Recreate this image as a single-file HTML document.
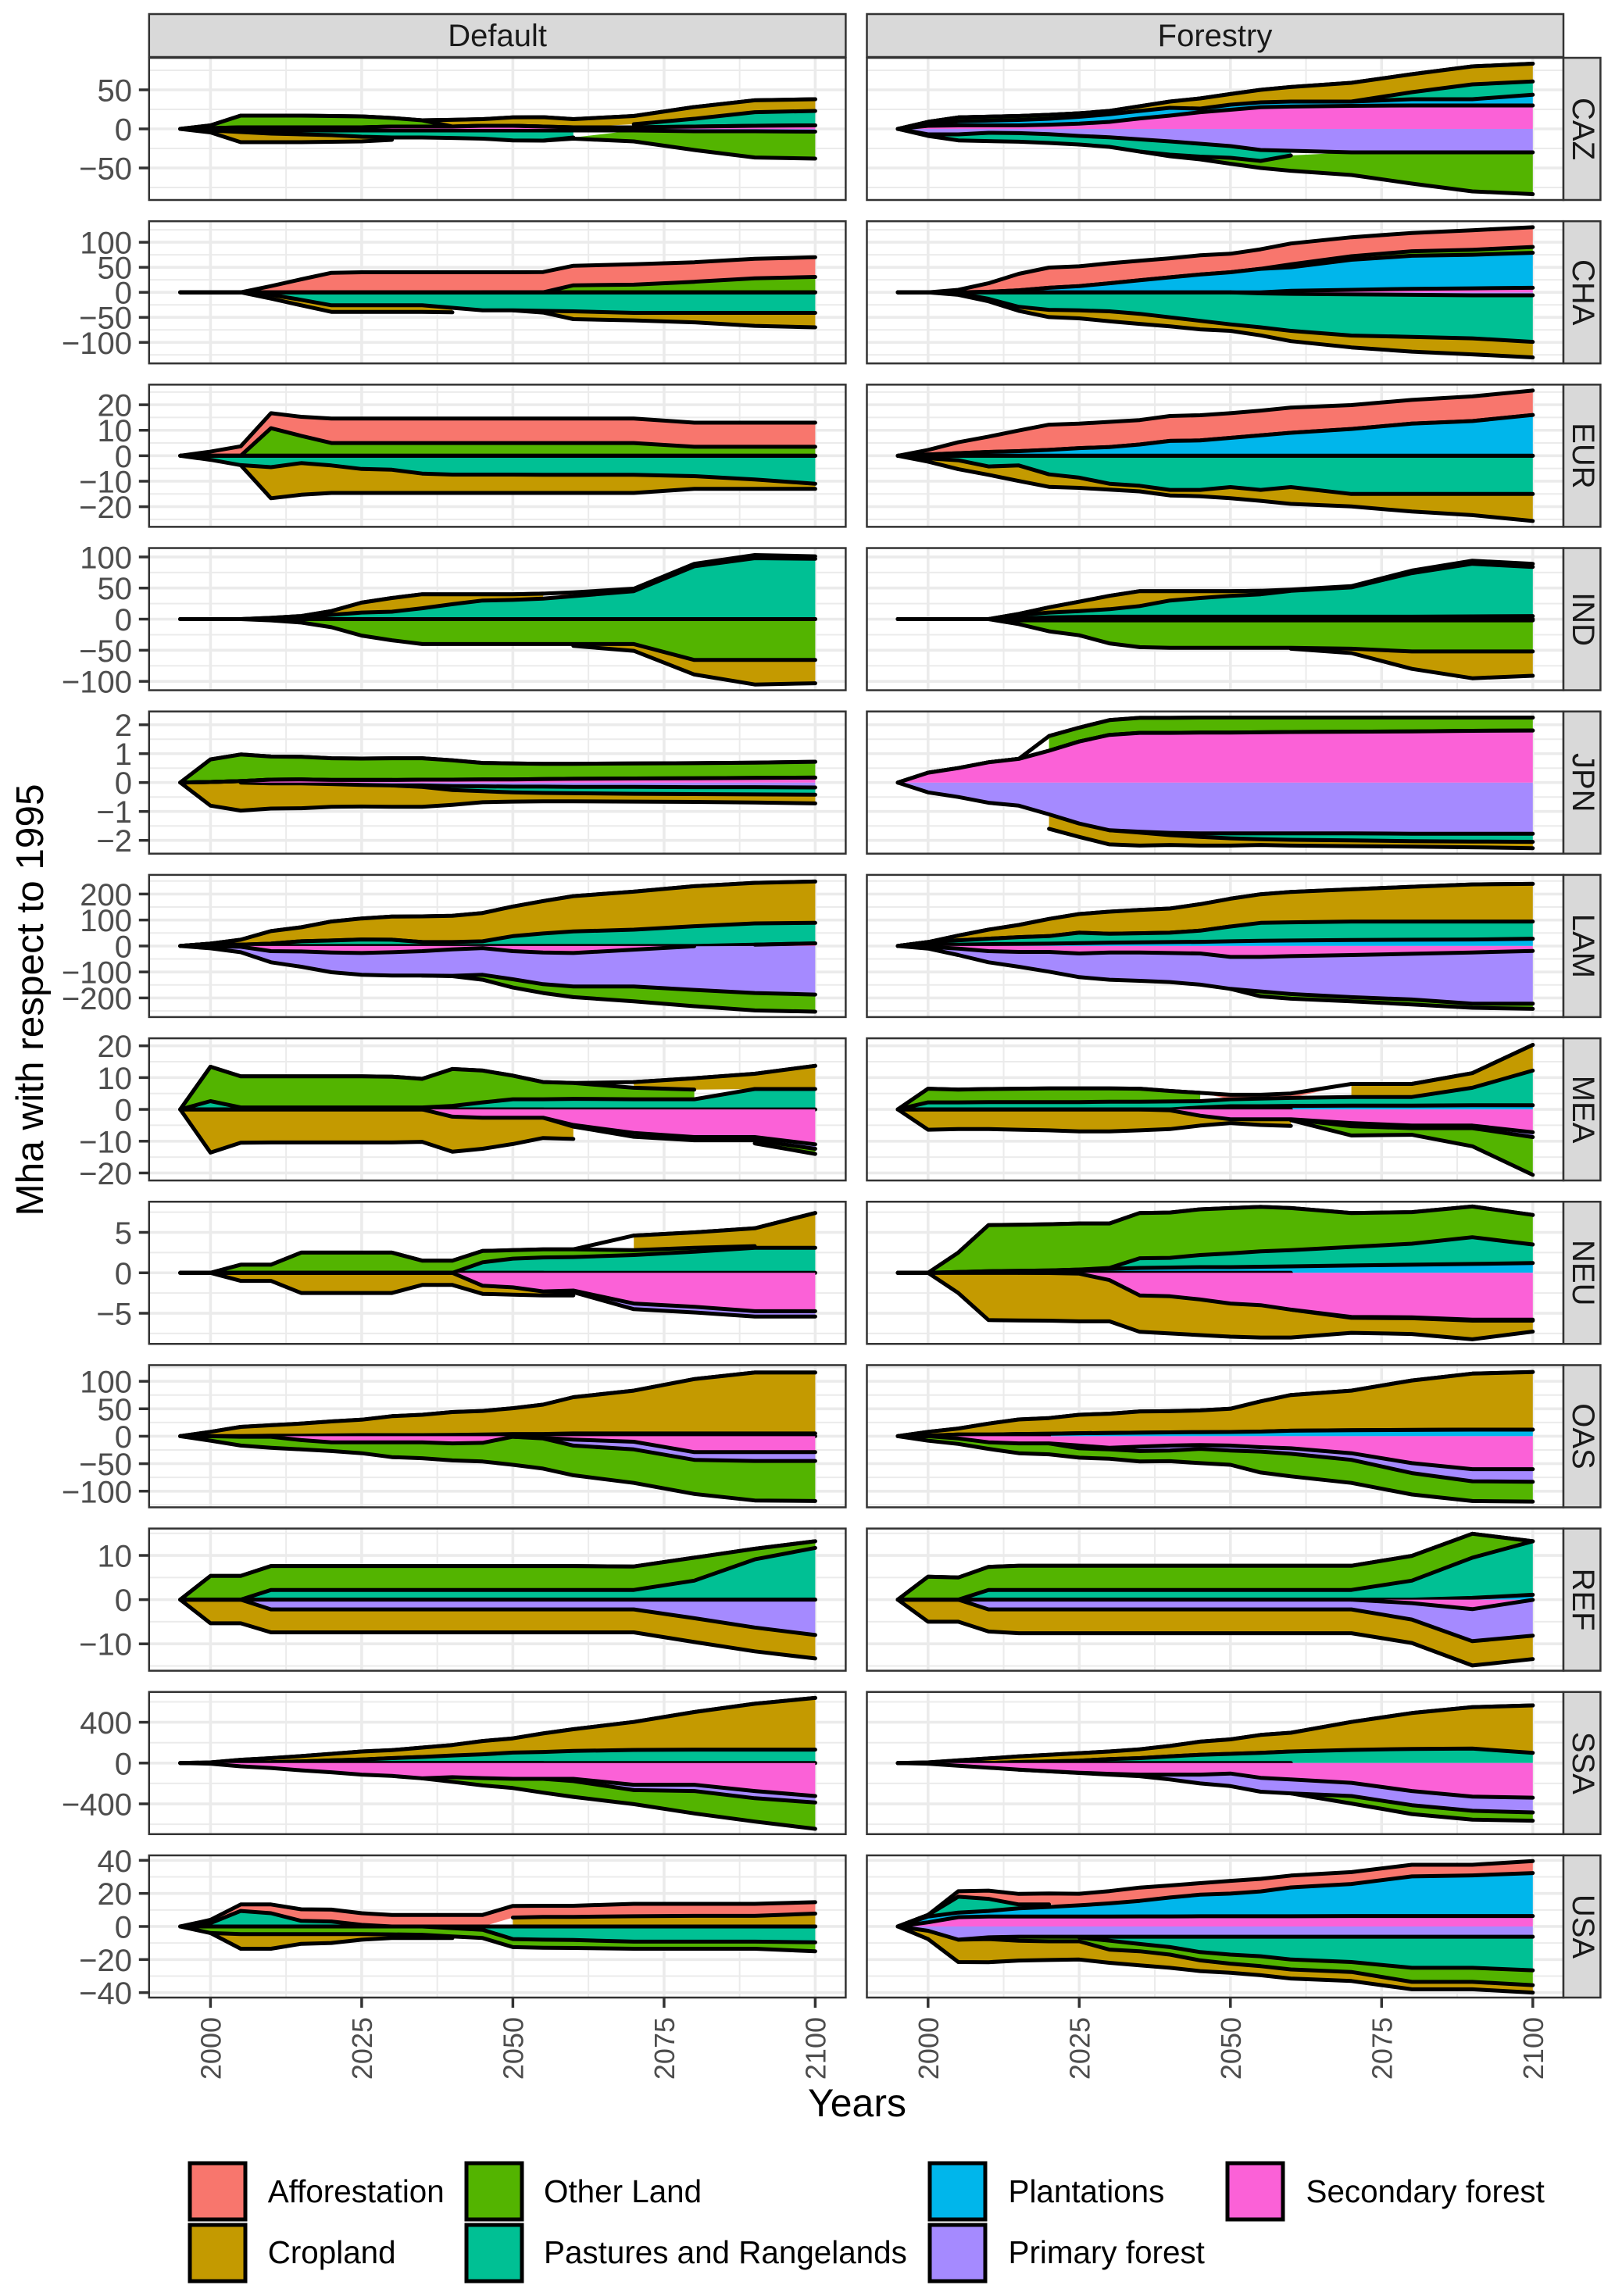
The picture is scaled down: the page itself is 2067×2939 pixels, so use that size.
<!DOCTYPE html>
<html lang="en">
<head>
<meta charset="utf-8">
<title>Land use change by region, Default and Forestry scenarios</title>
<style>
html,body{margin:0;padding:0;background:#fff}
svg{display:block;font-family:"Liberation Sans",sans-serif}
</style>
</head>
<body>
<svg id="chart" xmlns="http://www.w3.org/2000/svg" width="2067" height="2939" viewBox="0 0 2067 2939">
  <rect x="0" y="0" width="2067" height="2939" fill="#ffffff"/>
  <g id="panels"></g>

  <g>
    <rect x="190.8" y="18" width="891.6" height="55" fill="#d9d9d9" stroke="#333333" stroke-width="2.5"/>
    <text x="636.6" y="59" font-size="40" text-anchor="middle" fill="#1a1a1a">Default</text>
    <rect x="1109.5" y="18" width="891.5" height="55" fill="#d9d9d9" stroke="#333333" stroke-width="2.5"/>
    <text x="1555" y="59" font-size="40" text-anchor="middle" fill="#1a1a1a">Forestry</text>
  </g>

  <text x="1097" y="2709" font-size="50" text-anchor="middle" fill="#000000">Years</text>
  <text transform="translate(55,1280) rotate(-90)" font-size="49.5" text-anchor="middle" fill="#000000">Mha with respect to 1995</text>

  <g stroke="#000000" stroke-width="5">
    <rect x="243" y="2769" width="71" height="72" fill="#F8766D"/>
    <rect x="243" y="2848" width="71" height="72" fill="#C49A00"/>
    <rect x="597" y="2769" width="71" height="72" fill="#53B400"/>
    <rect x="597" y="2848" width="71" height="72" fill="#00C094"/>
    <rect x="1190" y="2769" width="71" height="72" fill="#00B6EB"/>
    <rect x="1190" y="2848" width="71" height="72" fill="#A58AFF"/>
    <rect x="1571" y="2769" width="71" height="72" fill="#FB61D7"/>
  </g>
  <g font-size="40.4" fill="#000000">
    <text x="342.7" y="2819">Afforestation</text>
    <text x="342.7" y="2897">Cropland</text>
    <text x="696" y="2819">Other Land</text>
    <text x="696" y="2897">Pastures and Rangelands</text>
    <text x="1290.5" y="2819">Plantations</text>
    <text x="1290.5" y="2897">Primary forest</text>
    <text x="1671.5" y="2819">Secondary forest</text>
  </g>
</svg>

<script>
const years = [1995,2000,2005,2010,2015,2020,2025,2030,2035,2040,2045,2050,2055,2060,2070,2080,2090,2100];
const xTickYears = [2000,2025,2050,2075,2100];
const xMinorYears = [2012.5,2037.5,2062.5,2087.5];
const regions = ['CAZ','CHA','EUR','IND','JPN','LAM','MEA','NEU','OAS','REF','SSA','USA'];
const scenarios = ['Default','Forestry'];
const categories = ['Afforestation','Cropland','Other Land','Pastures and Rangelands','Plantations','Primary forest','Secondary forest'];
const colors = ['#F8766D','#C49A00','#53B400','#00C094','#00B6EB','#A58AFF','#FB61D7'];
const yLimits = [91,142,27.9,114.3,2.46,273.7,22.36,8.79,129.4,16.08,697,43];
const yTicksCAZ = [-50,0,50];
const yTicksCHA = [-100,-50,0,50,100];
const yTicksEUR = [-20,-10,0,10,20];
const yTicksIND = [-100,-50,0,50,100];
const yTicksJPN = [-2,-1,0,1,2];
const yTicksLAM = [-200,-100,0,100,200];
const yTicksMEA = [-20,-10,0,10,20];
const yTicksNEU = [-5,0,5];
const yTicksOAS = [-100,-50,0,50,100];
const yTicksREF = [-10,0,10];
const yTicksSSA = [-400,0,400];
const yTicksUSA = [-40,-20,0,20,40];

/* CAZ */
const CAZ_D_crop = [0,-2.5,-13,-11,-10,-8.5,-6,-3,0,8.6,8.5,10.7,12,10.5,10.5,15,15.2,15];
const CAZ_D_other = [0,3.5,15,15,15,14.5,14,11,8,0,0,0,0,-1.5,-14,-24,-33.6,-34.5];
const CAZ_D_past = [0,-1,-2,-4,-5,-6,-8,-9,-9,-9.6,-10.5,-12.7,-13,-9,4,10,17.4,18.5];
const CAZ_D_prim = [0,-1,-2,-2,-2,-2,-2,-2,-2,-2,-2,-2,-2,-2,-2,-3,-3,-3.5];
const CAZ_D_sec = [0,1,2,2,2,2,2,3,3,3,4,4,3,2,2,3,4,4.5];
const CAZ_F_crop = [0,0,0,0,0,0,0,4.3,6,8,13,13.6,16,18.6,24,23,23,22.8];
const CAZ_F_other = [0,3,5,5,5,5,4.5,0,0,-2,-3.5,-7.6,-9,-19.6,-29,-40,-50,-53.5];
const CAZ_F_past = [0,-2,-7.7,-10.6,-11,-11.3,-11,-12.3,-15.6,-17,-16.5,-15,-14,-6,0,9,19,17];
const CAZ_F_plant = [0,2,5.2,6.1,7,7.6,8.8,9.7,9.6,10,4.6,6.5,6.3,6.4,5.5,8,8,13.7];
const CAZ_F_prim = [0,-7,-7,-5,-5.4,-6.7,-9,-10.7,-13.4,-16,-19,-22,-27,-28,-30,-30,-30,-30];
const CAZ_F_sec = [0,4,4.5,4.5,4.5,5.4,6.7,9,13.4,17,21.4,24.5,27.7,28.6,29.5,30,30,30];
/* CHA */
const CHA_D_aff = [0,0,0,12.5,26,39,40,40,40,40,40,40,40.5,39,40.7,39,39,39.3];
const CHA_D_other = [0,0,0,0,0,0,0,0,0,0,0,0,0,14,15.3,21,28,30.7];
const CHA_D_past = [0,0,0,-5,-15,-26,-26,-26,-26,-31,-36,-36,-37,-38,-41,-41,-41,-41];
const CHA_D_crop = [0,0,0,-7.5,-11,-13,-13,-13,-13,-9,0,0,-3.5,-15.6,-15,-19,-26,-29];
const CHA_F_aff = [0,0,5,17,33,40.5,39.5,40,39,38,38.5,37,39,41.5,38,36.5,39,39.4];
const CHA_F_other = [0,0,0,0,0,0,0,0,0,0,0,0,0,6,7,9,10,11.6];
const CHA_F_plant = [0,0,0,1,4,9,12.5,18,24,30,35.5,40,47,47,60,66,67,70];
const CHA_F_sec = [0,0,0,0,0,0,0,0,0,0,0,0,0,3,5,7,8,9];
const CHA_F_past = [0,0,-2,-13,-29,-35,-36,-38,-43,-50,-57,-64,-68,-74,-82.4,-84,-86,-93];
const CHA_F_crop = [0,0,-3,-5,-8,-14.5,-16,-20,-20,-18,-17,-13,-16,-20.5,-23.6,-29.5,-32,-31];
const CHA_F_prim = [0,0,0,0,0,0,0,0,0,0,0,0,-2,-3,-4,-5,-6,-6];
/* EUR */
const EUR_D_aff = [0,1.6,3.7,5.9,7.5,9.6,9.6,9.6,9.6,9.6,9.6,9.6,9.6,9.6,9.6,9.5,9.5,9.5];
const EUR_D_other = [0,0,0,10.8,7.8,5,5,5,5,5,5,5,5,5,5,3.5,3.5,3.5];
const EUR_D_past = [0,-1.6,-3.7,-4.5,-2.9,-3.8,-5.2,-5.5,-7,-7.4,-7.4,-7.4,-7.5,-7.5,-7.5,-8,-9.3,-11];
const EUR_D_crop = [0,0,0,-12.2,-12.4,-10.8,-9.4,-9.1,-7.6,-7.2,-7.2,-7.2,-7.1,-7.1,-7.1,-5,-3.7,-2];
const EUR_F_aff = [0,1.8,4.3,6,8.1,9.9,9.6,9.9,9.6,9.8,9.9,9.7,9.7,9.9,9.4,9.3,9.7,9.6];
const EUR_F_plant = [0,0.5,1,1.5,1.8,2.3,3,3.4,4.4,5.8,6,7,8,9,10.5,12.6,13.6,16];
const EUR_F_past = [0,-1,-1.8,-4.2,-3.8,-7.3,-8.6,-11,-11.8,-13.4,-13.4,-12.3,-13.4,-12.3,-15,-15,-15,-15];
const EUR_F_crop = [0,-1.3,-3.5,-3.3,-6.1,-4.9,-4,-2.3,-2.2,-2.2,-2.5,-4.4,-4.3,-6.6,-4.9,-6.9,-8.3,-10.6];
/* IND */
const IND_D_aff = [0,0,0,0,0,0,0,0,0,0,0,0,0,6,4,4,5,4];
const IND_D_crop = [0,0,0,1,2,6,16,22,22.5,16,10,9,8,-3,-11,-23.4,-39.5,-37.5];
const IND_D_past = [0,0,0,1,3,7,10.6,12,17.5,24,30,31,33,37,45,85,98,97];
const IND_D_other = [0,0,0,-2,-5.5,-13,-26.5,-34,-40,-40,-40,-40,-40,-40,-40,-65.6,-65.6,-65.6];
const IND_F_aff = [0,0,0,0,0,0,0,0,0,0,0,0,0,2,2,4,5,5];
const IND_F_crop = [0,0,0,0,2,8.4,15,21.5,24,15,11,7.5,5.5,-1.5,-7,-28,-43,-39];
const IND_F_past = [0,0,0,0,5.5,7.6,9.5,12,17,26,30,33.5,36,41.5,47,70,84.5,79];
const IND_F_plant = [0,0,0,0,1,3,3.5,4,4,4,4,4,4,4,4,4,4.5,5];
const IND_F_prim = [0,0,0,0,-2,-2,-2,-2,-2,-2,-2,-2,-2,-2,-2,-2,-2,-2];
const IND_F_other = [0,0,0,0,-6,-17.5,-24,-37,-43,-44,-44,-44,-44,-44,-45.6,-50,-50,-50];
/* JPN */
const JPN_D_crop = [0,-0.8,-0.97,-0.87,-0.86,-0.79,-0.75,-0.74,-0.69,-0.51,-0.38,-0.32,-0.29,-0.28,-0.27,-0.27,-0.28,-0.3];
const JPN_D_other = [0,0.78,0.92,0.8,0.78,0.75,0.74,0.75,0.74,0.67,0.57,0.55,0.53,0.52,0.52,0.52,0.53,0.55];
const JPN_D_past = [0,0,0,0,0,0,0,0,-0.05,-0.14,-0.17,-0.2,-0.22,-0.22,-0.24,-0.24,-0.25,-0.25];
const JPN_D_prim = [0,0,0,-0.03,-0.03,-0.05,-0.08,-0.1,-0.1,-0.12,-0.13,-0.14,-0.14,-0.15,-0.15,-0.16,-0.16,-0.17];
const JPN_D_sec = [0,0.02,0.05,0.1,0.11,0.09,0.09,0.09,0.1,0.1,0.11,0.11,0.12,0.13,0.14,0.15,0.16,0.17];
const JPN_F_crop = [null,null,null,null,null,-0.5,-0.46,-0.49,-0.45,-0.34,-0.3,-0.25,-0.2,-0.2,-0.2,-0.19,-0.2,-0.22];
const JPN_F_other = [null,null,null,null,null,0.51,0.48,0.51,0.52,0.52,0.52,0.52,0.51,0.5,0.49,0.48,0.46,0.45];
const JPN_F_past = [0,0,0,0,0,0,0,0,-0.03,-0.08,-0.12,-0.17,-0.2,-0.22,-0.24,-0.26,-0.27,-0.28];
const JPN_F_prim = [0,-0.34,-0.5,-0.7,-0.8,-1.1,-1.42,-1.65,-1.7,-1.74,-1.76,-1.76,-1.76,-1.76,-1.76,-1.77,-1.77,-1.77];
const JPN_F_sec = [0,0.34,0.5,0.7,0.82,1.1,1.42,1.65,1.72,1.72,1.73,1.73,1.74,1.75,1.76,1.77,1.79,1.8];
/* LAM */
const LAM_D_crop = [0,0,19,48,54,73,81,89,99,101,109,114,125,136,146,154,156,159];
const LAM_D_past = [0,9,5,9,18,21,25,24,15,15,18,38,48,56,63,76,82,79];
const LAM_D_sec = [0,-1,-3,-20,-21,-25,-27,-24,-20,-13,-8,-20,-25,-27,-14,-1,5,10];
const LAM_D_prim = [0,-8,-21,-43,-59,-76,-84,-90,-94,-102,-103,-108,-122,-129,-142,-168,-181,-187];
const LAM_D_other = [0,0,0,0,0,0,0,0,0,-1,-19,-32,-34,-41,-57,-63,-67,-66];
const LAM_F_crop = [0,0,18,35,47,66,72,85,90,93,102,107,110,117,124,134,143,145];
const LAM_F_past = [0,10,17,21,26,29,40,34,35,36,43,57,69,70,71,70,69,66];
const LAM_F_plant = [0,5,5,7,8,9,11,13,14,15,16,18,20,21,23,24,25,28];
const LAM_F_sec = [0,-3,-10,-20,-23,-23,-29,-25,-25,-27,-29,-42,-42,-39,-35,-30,-25,-19];
const LAM_F_prim = [0,-7,-25,-43,-57,-76,-91,-105,-109,-112,-120,-123,-133,-146,-162,-176,-197,-203];
const LAM_F_other = [0,0,0,0,0,0,0,0,0,0,0,0,-19,-18,-16,-19,-16,-20];
/* MEA */
const MEA_D_crop = [0,-13.6,-10.5,-10.4,-10.4,-10.4,-10.4,-10.4,-10.2,-11,-9.8,-8.3,-6.4,-3.9,1.8,3.6,4.8,7.3];
const MEA_D_other = [0,10.8,9.8,9.8,9.8,9.8,9.8,9.7,9,11.6,10,7.4,5.4,5,3.6,3,-1,-1.6];
const MEA_D_past = [0,2.6,0.6,0.6,0.6,0.6,0.6,0.6,0.6,1.1,2.2,3.2,3.2,3.3,3.2,3.2,6.4,6.4];
const MEA_D_prim = [0,0,0,0,0,0,0,0,0,0,0,0,0,-0.5,-1.2,-1,-1,-1.4];
const MEA_D_sec = [0,0,0,0,0,0,0,0,0,-2.3,-2.6,-2.6,-2.6,-4.9,-7.4,-8.7,-8.7,-11];
const MEA_F_aff = [0,0,0,0,0,0,0,0,0,0,0,1.4,1.2,1.4,0,0,0,0];
const MEA_F_crop = [0,-6.4,-6.2,-6.2,-6.4,-6.6,-6.9,-6.9,-6.6,-5.9,-3.1,-1.2,-1.8,-1.8,4.1,4.1,4.6,8.1];
const MEA_F_other = [0,4.3,4,4.1,4.2,4.3,4.3,4.2,4.1,3.3,2.6,null,null,-0.3,-2.9,-2.1,-5.7,-11.9];
const MEA_F_past = [0,2.2,2.2,2.3,2.3,2.3,2.3,2.4,2.4,2.5,2,2.2,2.4,2.5,2.7,2.7,5.5,10.9];
const MEA_F_plant = [0,0,0,0,0,0,0,0,0,0,0.6,1,1,1.1,1.2,1.2,1.3,1.3];
const MEA_F_prim = [0,0,0,0,0,0,0,0,0,0,0,0,0,0,-1,-0.8,-0.8,-1.5];
const MEA_F_sec = [0,0,0,0,0,0,0,0,0,-0.3,-2,-3.1,-3.1,-3.1,-4.3,-5.1,-5.1,-7.2];
/* NEU */
const NEU_D_crop = [0,0,-1,-1,-2.5,-2.5,-2.5,-2.5,-1.5,-1.5,-1,-0.9,-0.5,-0.4,1.8,1.9,2.2,4.3];
const NEU_D_other = [0,0,1,1,2.5,2.5,2.5,2.5,1.5,1.5,1.4,1.05,1,0.95,0.6,0.5,0.2,-2];
const NEU_D_past = [0,0,0,0,0,0,0,0,0,0,1.3,1.75,1.9,1.95,2.2,2.6,3.1,3.1];
const NEU_D_prim = [0,0,0,0,0,0,0,0,0,0,0,0,0,-0.2,-0.7,-0.7,-0.65,-0.65];
const NEU_D_sec = [0,0,0,0,0,0,0,0,0,0,-1.6,-1.8,-2.3,-2.2,-3.8,-4.2,-4.75,-4.75];
const NEU_F_crop = [0,0,-2.5,-5.85,-5.9,-5.9,-5.9,-5.1,-4.5,-4.6,-4.4,-4.1,-4,-3.45,-1.85,-1.95,-2.3,-1.35];
const NEU_F_other = [0,0,2.4,5.7,5.7,5.7,5.7,5.5,5.6,5.6,5.65,5.6,5.5,5.2,4.2,3.9,3.8,3.65];
const NEU_F_past = [0,0,0,0,0,0,0,0.1,1.2,1.2,1.5,1.7,1.9,2,2.3,2.6,3.3,2.3];
const NEU_F_plant = [0,0,0.1,0.2,0.25,0.3,0.4,0.5,0.6,0.65,0.7,0.7,0.75,0.8,0.9,1,1.1,1.2];
const NEU_F_prim = [0,0,0,0,0,0,0,0,0,0,0,0,0,0,-0.12,-0.12,-0.12,-0.12];
const NEU_F_sec = [0,0,0,0,0,-0.02,-0.1,-0.9,-2.8,-2.9,-3.3,-3.8,-4,-4.55,-5.45,-5.5,-5.8,-5.8];
/* OAS */
const OAS_D_crop = [0,8,17,19,22,25.5,28,34.5,37,41.6,43,47,53.5,66,78,99,111,111];
const OAS_D_past = [0,0,0,1,1,1.5,2,2,2,2.4,3,4,4,5,5,5,5,5];
const OAS_D_sec = [0,0,-1,-1,-7,-11,-11,-11,-11,-13,-12,-1,-3,-6,-10,-29,-29,-29];
const OAS_D_prim = [0,0,0,0,0,0,0,0,0,0,0,0,-1,-11,-14,-14,-16,-16];
const OAS_D_other = [0,-8,-16,-20,-17,-16,-20,-27,-29,-31,-34,-51,-55,-54,-61,-62,-72,-73];
const OAS_F_crop = [0,7,11,20,26.5,28.5,33.6,35,38.5,38.5,39.5,42.2,55,65,72.2,90,102,105];
const OAS_F_plant = [0,1,3,3,4,4.5,5.4,6,6.5,7,7.5,7.8,8.5,10,10.8,11.5,12,12];
const OAS_F_sec = [0,0,-4,-11,-13,-13,-17,-21,-19,-17,-16,-17,-20,-22,-31,-49,-60,-60];
const OAS_F_prim = [0,0,0,0,0,0,-5,-3,-8,-9,-7,-9,-8,-10,-12,-18,-22,-23];
const OAS_F_other = [0,-8,-10,-12,-18,-20,-17,-17,-19,-19.5,-26,-26,-38,-41,-42,-39,-36,-36];
/* REF */
const REF_D_other = [0,5.35,5.35,5.4,5.4,5.4,5.4,5.4,5.4,5.4,5.4,5.4,5.4,5.4,5.3,5.2,2.4,1.5];
const REF_D_past = [0,0,0,2.2,2.2,2.2,2.2,2.2,2.2,2.2,2.2,2.2,2.2,2.2,2.2,4.3,9.1,11.7];
const REF_D_prim = [0,0,0,-2.2,-2.2,-2.2,-2.2,-2.2,-2.2,-2.2,-2.2,-2.2,-2.2,-2.2,-2.2,-4.2,-6.3,-8];
const REF_D_crop = [0,-5.35,-5.35,-5.2,-5.2,-5.2,-5.2,-5.2,-5.2,-5.2,-5.2,-5.2,-5.2,-5.2,-5.2,-5.4,-5.4,-5.3];
const REF_F_other = [0,5.2,5,5.2,5.45,5.45,5.45,5.45,5.45,5.45,5.45,5.45,5.45,5.45,5.45,5.6,5.4,0];
const REF_F_past = [0,0,0,2.2,2.2,2.2,2.2,2.2,2.2,2.2,2.2,2.2,2.2,2.2,2.2,4.3,9.1,12.1];
const REF_F_plant = [0,0,0,0,0,0,0,0,0,0,0,0,0,0,0,0,0.4,1.1];
const REF_F_sec = [0,0,0,0,0,0,0,0,0,0,0,0,0,0,0,-0.8,-2.15,-0.05];
const REF_F_prim = [0,0,0,-2.2,-2.2,-2.2,-2.2,-2.2,-2.2,-2.2,-2.2,-2.2,-2.2,-2.2,-2.2,-3.7,-7.25,-8.1];
const REF_F_crop = [0,-5,-5,-5,-5.4,-5.4,-5.4,-5.4,-5.4,-5.4,-5.4,-5.4,-5.4,-5.4,-5.4,-5.3,-5.5,-5.3];
/* SSA */
const SSA_D_crop = [0,6,25,40,52,64,78,78,92,103,130,139,181,213,274,368,449,507];
const SSA_D_past = [0,0,7,8,16,26,35,48,60,74,86,103,109,119,129,132,132,132];
const SSA_D_sec = [0,-6,-32,-48,-71,-90,-113,-126,-150,-139,-148,-155,-155,-155,-213,-213,-274,-323];
const SSA_D_prim = [0,0,0,0,0,0,0,0,0,0,0,0,0,-22,-52,-61,-71,-64];
const SSA_D_other = [0,0,0,0,0,0,0,0,0,-45,-71,-90,-135,-155,-138,-220,-229,-258];
const SSA_F_crop = [0,6,26,45,55,65,73,74,87,103,129,142,176,184,274,351,406,465];
const SSA_F_past = [0,0,0,0,10,16,24,39,48,65,81,90,100,113,129,139,142,100];
const SSA_F_plant = [0,0,0,0,0,0,0,0,0,0,0,0,0,0,null,null,null,null];
const SSA_F_sec = [0,-6,-26,-45,-65,-80,-95,-106,-113,-113,-113,-103,-145,-161,-194,-274,-329,-339];
const SSA_F_prim = [0,0,0,0,0,-1,-2,-7,-16,-48,-87,-123,-136,-136,-129,-139,-139,-145];
const SSA_F_other = [0,0,0,0,0,0,0,0,0,0,0,0,0,0,-74,-87,-87,-81];
/* USA */
const USA_D_aff = [0,2,3.9,5.3,7,7.2,7,7,7,7,7,7,6.7,6.7,7.5,7.3,7.3,6.9];
const USA_D_crop = [0,0,-8.9,-8.9,-5.9,-5.4,-3.4,-2.2,-2,-1,null,5.4,5.8,5.8,6.2,6.4,6.4,7.8];
const USA_D_other = [0,-4,-4.6,-4.6,-4.6,-4.6,-4.6,-4.8,-5,-5,-5,-4.9,-4.9,-4.8,-4.3,-4.3,-4.3,-5.4];
const USA_D_past = [0,2,9.4,8,3.4,3,1,0,0,-1,-2,-7.6,-8,-8.2,-9.2,-9.2,-9.2,-9.6];
const USA_F_aff = [0,0,3.3,5,6.4,6.7,7,7.4,8,7.3,7,7.7,7.6,7.2,7.2,7,6.4,7.3];
const USA_F_crop = [0,-5,-13.5,-14,-12,-11.3,-11,-8,-8.5,-8,-6.5,-5.5,-5.5,-5.5,-5.5,-4.5,-4.5,-4.5];
const USA_F_other = [0,0,0,-1,-2.4,-2.8,-2.3,-5.4,-4.4,-4.5,-5,-5.5,-6,-6,-6,-8.5,-8.5,-9];
const USA_F_past = [0,1,9.6,7.3,2.3,1.5,-0.5,-2.4,-4.4,-6.3,-9.3,-10.8,-11.8,-13.8,-15.3,-18.8,-18.8,-20.3];
const USA_F_plant = [0,3.5,2.8,3.4,5,5.8,6.8,8,9.4,11.4,13,13.7,15,17.4,19.4,24,24.6,26];
const USA_F_prim = [0,-2.6,-8,-6.6,-6.2,-6.2,-6.2,-6.2,-6.2,-6.2,-6.2,-6.2,-6.2,-6.2,-6.2,-6.2,-6.2,-6.2];
const USA_F_sec = [0,2.5,5.6,6,6,6,6,6,6.1,6.1,6.2,6.2,6.2,6.2,6.3,6.3,6.3,6.3];

/* Series per panel, in category order; 0 = series is zero everywhere. */
const yTicksByRow = [yTicksCAZ,yTicksCHA,yTicksEUR,yTicksIND,yTicksJPN,yTicksLAM,yTicksMEA,yTicksNEU,yTicksOAS,yTicksREF,yTicksSSA,yTicksUSA];
const defaultSeriesByRow = [
  [0,CAZ_D_crop,CAZ_D_other,CAZ_D_past,0,CAZ_D_prim,CAZ_D_sec],
  [CHA_D_aff,CHA_D_crop,CHA_D_other,CHA_D_past,0,0,0],
  [EUR_D_aff,EUR_D_crop,EUR_D_other,EUR_D_past,0,0,0],
  [IND_D_aff,IND_D_crop,IND_D_other,IND_D_past,0,0,0],
  [0,JPN_D_crop,JPN_D_other,JPN_D_past,0,JPN_D_prim,JPN_D_sec],
  [0,LAM_D_crop,LAM_D_other,LAM_D_past,0,LAM_D_prim,LAM_D_sec],
  [0,MEA_D_crop,MEA_D_other,MEA_D_past,0,MEA_D_prim,MEA_D_sec],
  [0,NEU_D_crop,NEU_D_other,NEU_D_past,0,NEU_D_prim,NEU_D_sec],
  [0,OAS_D_crop,OAS_D_other,OAS_D_past,0,OAS_D_prim,OAS_D_sec],
  [0,REF_D_crop,REF_D_other,REF_D_past,0,REF_D_prim,0],
  [0,SSA_D_crop,SSA_D_other,SSA_D_past,0,SSA_D_prim,SSA_D_sec],
  [USA_D_aff,USA_D_crop,USA_D_other,USA_D_past,0,0,0]
];
const forestrySeriesByRow = [
  [0,CAZ_F_crop,CAZ_F_other,CAZ_F_past,CAZ_F_plant,CAZ_F_prim,CAZ_F_sec],
  [CHA_F_aff,CHA_F_crop,CHA_F_other,CHA_F_past,CHA_F_plant,CHA_F_prim,CHA_F_sec],
  [EUR_F_aff,EUR_F_crop,0,EUR_F_past,EUR_F_plant,0,0],
  [IND_F_aff,IND_F_crop,IND_F_other,IND_F_past,IND_F_plant,IND_F_prim,0],
  [0,JPN_F_crop,JPN_F_other,JPN_F_past,0,JPN_F_prim,JPN_F_sec],
  [0,LAM_F_crop,LAM_F_other,LAM_F_past,LAM_F_plant,LAM_F_prim,LAM_F_sec],
  [MEA_F_aff,MEA_F_crop,MEA_F_other,MEA_F_past,MEA_F_plant,MEA_F_prim,MEA_F_sec],
  [0,NEU_F_crop,NEU_F_other,NEU_F_past,NEU_F_plant,NEU_F_prim,NEU_F_sec],
  [0,OAS_F_crop,OAS_F_other,0,OAS_F_plant,OAS_F_prim,OAS_F_sec],
  [0,REF_F_crop,REF_F_other,REF_F_past,REF_F_plant,REF_F_prim,REF_F_sec],
  [0,SSA_F_crop,SSA_F_other,SSA_F_past,SSA_F_plant,SSA_F_prim,SSA_F_sec],
  [USA_F_aff,USA_F_crop,USA_F_other,USA_F_past,USA_F_plant,USA_F_prim,USA_F_sec]
];

const NS = 'http://www.w3.org/2000/svg';
const root = document.getElementById('panels');
const colLeft = [190.8, 1109.5];
const panelW = [891.6, 891.5];
const x2000 = [269.4, 1187.8];
const pxPerYear = 7.74;
const panelH = 182;
function panelTop(r){ return 74 + 209.18 * r; }
function xScale(c, yr){ return x2000[c] + (yr - 2000) * pxPerYear; }
function yScale(r, v){ return panelTop(r) + panelH / 2 - v * (panelH / 2) / yLimits[r]; }
function mk(tag, attrs, parent){
  const el = document.createElementNS(NS, tag);
  for (const k in attrs) el.setAttribute(k, attrs[k]);
  parent.appendChild(el);
  return el;
}
function fmt(v){ return (v < 0 ? '\u2212' + (-v) : String(v)); }

function computeStacks(series){
  const n = years.length, m = categories.length;
  const lo = [], hi = [], negLevel = [];
  for (let c = 0; c < m; c++){
    lo.push(new Array(n).fill(null));
    hi.push(new Array(n).fill(null));
    negLevel.push(new Array(n).fill(0));
  }
  for (let t = 0; t < n; t++){
    let pos = 0, neg = 0;
    for (let c = m - 1; c >= 0; c--){
      const arr = series[c];
      const v = arr ? arr[t] : 0;
      negLevel[c][t] = neg;
      if (v === null || v === undefined) continue;
      if (v >= 0){ lo[c][t] = pos; pos += v; hi[c][t] = pos; }
      else { lo[c][t] = neg; neg += v; hi[c][t] = neg; }
    }
  }
  return {lo, hi, negLevel};
}

function drawRuns(g, r, c, cat, series, st){
  const arr = series[cat];
  const val = t => (arr ? arr[t] : 0);
  const runs = [];
  let cur = null;
  for (let t = 0; t < years.length; t++){
    const v = val(t);
    const sign = (v === null || v === undefined) ? 0 : (v >= 0 ? 1 : -1);
    if (cur && cur.sign === sign && sign !== 0){ cur.ts.push(t); }
    else {
      if (cur) runs.push(cur);
      cur = sign !== 0 ? {sign: sign, ts: [t], lead: -1} : null;
    }
  }
  if (cur) runs.push(cur);
  runs.forEach(run => {
    /* a negative run grows out of the preceding zero row */
    if (run.sign < 0 && run.ts[0] > 0 && val(run.ts[0] - 1) === 0){
      run.lead = run.ts[0] - 1;
      run.ts.unshift(run.lead);
    }
    if (run.ts.length < 2) return;
    const yHi = t => (t === run.lead ? st.negLevel[cat][t] : st.hi[cat][t]);
    const yLo = t => (t === run.lead ? st.negLevel[cat][t] : st.lo[cat][t]);
    const upper = run.ts.map(t => xScale(c, years[t]).toFixed(1) + ',' + yScale(r, yHi(t)).toFixed(1));
    const lower = run.ts.slice().reverse().map(t => xScale(c, years[t]).toFixed(1) + ',' + yScale(r, yLo(t)).toFixed(1));
    const hasArea = run.ts.some(t => Math.abs(yHi(t) - yLo(t)) > 1e-9);
    if (hasArea){
      const area = mk('polygon', {points: upper.concat(lower).join(' '), fill: colors[cat], stroke: 'none'}, g);
      
      
    }
    const line = mk('polyline', {points: upper.join(' '), fill: 'none', stroke: '#000000', 'stroke-width': 5, 'stroke-linecap': 'round', 'stroke-linejoin': 'round'}, g);
    
    
  });
}

function drawPanel(r, c){
  const top = panelTop(r), left = colLeft[c], w = panelW[c];
  const g = mk('g', {}, root);
  
  

  const bg = mk('rect', {x: left, y: top, width: w, height: panelH, fill: '#ffffff'}, g);
  
  

  /* grid */
  const ticks = yTicksByRow[r];
  const step = ticks[1] - ticks[0];
  for (let v = ticks[0] - step / 2; v < yLimits[r] + step; v += step){
    if (Math.abs(v) >= yLimits[r]) continue;
    const y = yScale(r, v);
    const gl = mk('line', {x1: left, x2: left + w, y1: y, y2: y, stroke: '#ebebeb', 'stroke-width': 2}, g);
    
    
  }
  xMinorYears.forEach(yr => {
    const x = xScale(c, yr);
    const gl = mk('line', {x1: x, x2: x, y1: top, y2: top + panelH, stroke: '#ebebeb', 'stroke-width': 2}, g);
    
    
  });
  ticks.forEach(v => {
    const y = yScale(r, v);
    const gl = mk('line', {x1: left, x2: left + w, y1: y, y2: y, stroke: '#ebebeb', 'stroke-width': 3.6}, g);
    
    
  });
  xTickYears.forEach(yr => {
    const x = xScale(c, yr);
    const gl = mk('line', {x1: x, x2: x, y1: top, y2: top + panelH, stroke: '#ebebeb', 'stroke-width': 3.6}, g);
    
    
  });

  /* stacked areas */
  const series = (c === 0 ? defaultSeriesByRow : forestrySeriesByRow)[r];
  const st = computeStacks(series);
  for (let cat = 0; cat < categories.length; cat++) drawRuns(g, r, c, cat, series, st);

  /* border */
  const border = mk('rect', {x: left, y: top, width: w, height: panelH, fill: 'none', stroke: '#333333', 'stroke-width': 2.5}, g);
  
  

  /* y axis */
  if (c === 0){
    ticks.forEach(v => {
      const y = yScale(r, v);
      const tk = mk('line', {x1: left - 13, x2: left, y1: y, y2: y, stroke: '#333333', 'stroke-width': 3.5}, g);
      
      
      const lb = mk('text', {x: 169, y: y + 14.5, 'font-size': 40, 'text-anchor': 'end', fill: '#4d4d4d'}, g);
      lb.textContent = fmt(v);
      
      
    });
  }

  /* row strip */
  if (c === 1){
    const sr = mk('rect', {x: left + w, y: top, width: 47.4, height: panelH, fill: '#d9d9d9', stroke: '#333333', 'stroke-width': 2.5}, g);
    
    
    const cx = left + w + 12, cy = top + panelH / 2;
    const st2 = mk('text', {transform: 'translate(' + cx + ',' + cy + ') rotate(90)', 'font-size': 40, 'text-anchor': 'middle', fill: '#1a1a1a'}, g);
    st2.textContent = regions[r];
    
    
  }

  /* x axis */
  if (r === regions.length - 1){
    xTickYears.forEach(yr => {
      const x = xScale(c, yr);
      const tk = mk('line', {x1: x, x2: x, y1: top + panelH, y2: top + panelH + 13, stroke: '#333333', 'stroke-width': 3.5}, g);
      
      
      const lb = mk('text', {transform: 'translate(' + (x + 13) + ',2582) rotate(-90)', 'font-size': 36, 'text-anchor': 'end', fill: '#4d4d4d'}, g);
      lb.textContent = String(yr);
      
      
    });
  }
}

for (let r = 0; r < regions.length; r++){
  for (let c = 0; c < scenarios.length; c++){
    drawPanel(r, c);
  }
}
</script>
</body>
</html>
